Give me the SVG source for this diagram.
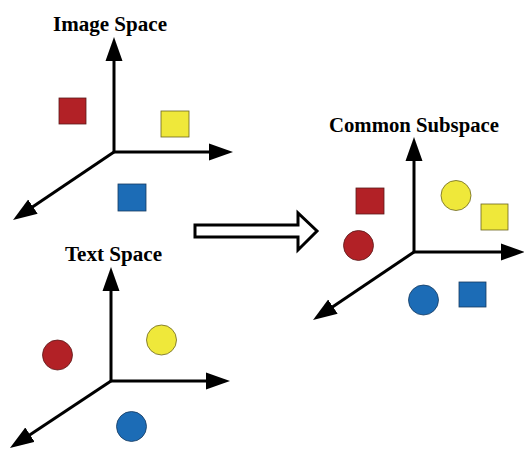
<svg xmlns="http://www.w3.org/2000/svg" width="524" height="449" viewBox="0 0 524 449">
<style>
.ax{stroke:#000;stroke-width:3;fill:none;marker-end:url(#ah)}
.lbl{font-family:"Liberation Serif","Times New Roman",serif;font-weight:bold;font-size:20px;fill:#000}
.r{fill:#B22126;stroke:#5a1a1a;stroke-width:0.8}
.y{fill:#EFE83A;stroke:#6b6420;stroke-width:0.8}
.b{fill:#1C6CB6;stroke:#153a60;stroke-width:0.8}
</style>
<defs>
<marker id="ah" markerUnits="userSpaceOnUse" markerWidth="24" markerHeight="18" refX="14" refY="9" orient="auto">
<path d="M0,0.5 L24,9 L0,17.5 z" fill="#000"/>
</marker>
</defs>
<rect width="524" height="449" fill="#fff"/>
<g id="connectors">
<line class="ax" x1="114" y1="152" x2="114" y2="47"/>
<line class="ax" x1="114" y1="152" x2="223" y2="152"/>
<line class="ax" x1="114" y1="152" x2="21.3" y2="214.4"/>
<line class="ax" x1="111" y1="381" x2="111" y2="277"/>
<line class="ax" x1="111" y1="381" x2="220" y2="381"/>
<line class="ax" x1="111" y1="381" x2="18.3" y2="442.4"/>
<line class="ax" x1="414" y1="252" x2="414" y2="147"/>
<line class="ax" x1="414" y1="252" x2="515" y2="252"/>
<line class="ax" x1="414" y1="252" x2="321.3" y2="314.4"/>
<polygon points="195,225 298,225 298,213 317,231 298,250 298,237 195,237" fill="#fff" stroke="#000" stroke-width="3" stroke-linejoin="miter"/>
</g>
<g id="image-space">
<text class="lbl" x="53" y="31" textLength="114" lengthAdjust="spacingAndGlyphs">Image Space</text>
<rect class="r" x="59" y="98" width="27" height="26"/>
<rect class="y" x="161" y="111" width="28" height="26"/>
<rect class="b" x="118" y="184" width="28" height="27"/>
</g>
<g id="text-space">
<text class="lbl" x="65" y="260.5" textLength="97" lengthAdjust="spacingAndGlyphs">Text Space</text>
<circle class="r" cx="57.5" cy="355" r="15"/>
<circle class="y" cx="161.5" cy="340" r="15"/>
<circle class="b" cx="131.5" cy="426.5" r="15"/>
</g>
<g id="common-subspace">
<text class="lbl" x="329" y="131.5" textLength="170" lengthAdjust="spacingAndGlyphs">Common Subspace</text>
<rect class="r" x="356" y="188" width="28" height="26"/>
<circle class="r" cx="358.5" cy="245.5" r="15"/>
<circle class="y" cx="456" cy="195.5" r="15"/>
<rect class="y" x="481" y="204" width="27" height="26"/>
<circle class="b" cx="423.5" cy="300" r="15"/>
<rect class="b" x="459" y="282" width="27" height="25"/>
</g>
</svg>
